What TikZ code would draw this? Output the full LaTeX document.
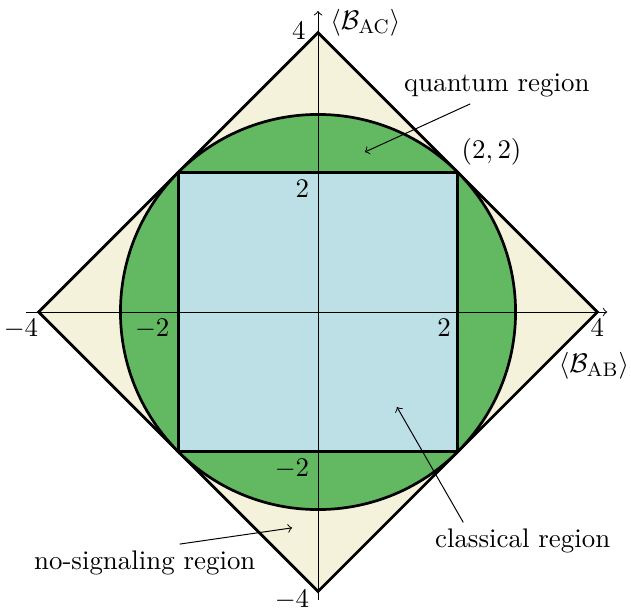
\documentclass[tikz,border=0pt]{standalone}
\usetikzlibrary{positioning}

\definecolor{nosigfill}{RGB}{244,242,218}
\definecolor{quantfill}{RGB}{98,185,98}
\definecolor{classfill}{RGB}{189,223,230}

\begin{document}
\begin{tikzpicture}[
every node/.style={
font=\fontsize{10.95}{13.6}\selectfont
},
region/.style={
draw,
line width=1.1pt
},
tick/.style={
inner sep=2pt
},
note/.style={
->,
thin
}
]

\useasboundingbox (-4.553,-4.252) rectangle (4.481,4.467);

% regions
\filldraw[region,fill=nosigfill] (4,0) -- (0,4) -- (-4,0) -- (0,-4) -- cycle;
\filldraw[region,fill=quantfill] (0,0) circle ({2*sqrt(2)});
\filldraw[region,fill=classfill] (-2,-2) rectangle (2,2);

% axes
\coordinate (xl) at (-4.18,0);
\coordinate (xr) at (4.14,0);
\coordinate (yb) at (0,-4.12);
\coordinate (yt) at (0,4.31);
\draw[->] (xl) -- (xr);
\draw[->] (yb) -- (yt);

\node[tick,anchor=north] (x4) at (4,-0.03) {$4$};
\node[tick,anchor=north] (xlab) at (3.95,-0.5) {$\langle\mathcal{B}_{\mathrm{AB}}\rangle$};
\node[tick,anchor=north east] (xm4) at (-3.93,-0.03) {$-4$};
\node[tick,anchor=north east] (xm2) at (-2.05,-0.03) {$-2$};
\node[tick,anchor=north east] (x2) at (1.98,-0.03) {$2$};
\node[tick,anchor=east] (y4) at (-0.1,4.02) {$4$};
\node[tick,anchor=west] (ylab) at (0.1,4.14) {$\langle\mathcal{B}_{\mathrm{AC}}\rangle$};
\node[tick,anchor=north east] (y2) at (-0.05,1.97) {$2$};
\node[tick,anchor=north east] (ym2) at (-0.05,-2.03) {$-2$};
\node[inner sep=0pt,anchor=north east] (ym4) at (-0.12,-3.97) {$-4$};
\node[tick,anchor=south west] (p22) at (1.98,2.02) {$(2,2)$};

% region labels
\node (qr) at (2.56,3.25) {quantum region};
\node (cr) at (2.93,-3.28) {classical region};
\node (nr) at (-2.48,-3.59) {no-signaling region};

\coordinate (qt) at (0.67,2.29);
\coordinate (ct) at (1.13,-1.36);
\coordinate (nt) at (-0.37,-3.09);

\draw[note] ([xshift=-0.38cm,yshift=0.02cm]qr.south) -- (qt);
\draw[note] ([xshift=-0.85cm,yshift=-0.03cm]cr.north) -- (ct);
\draw[note] ([xshift=0.5cm,yshift=-0.03cm]nr.north) -- (nt);

\end{tikzpicture}
\end{document}
